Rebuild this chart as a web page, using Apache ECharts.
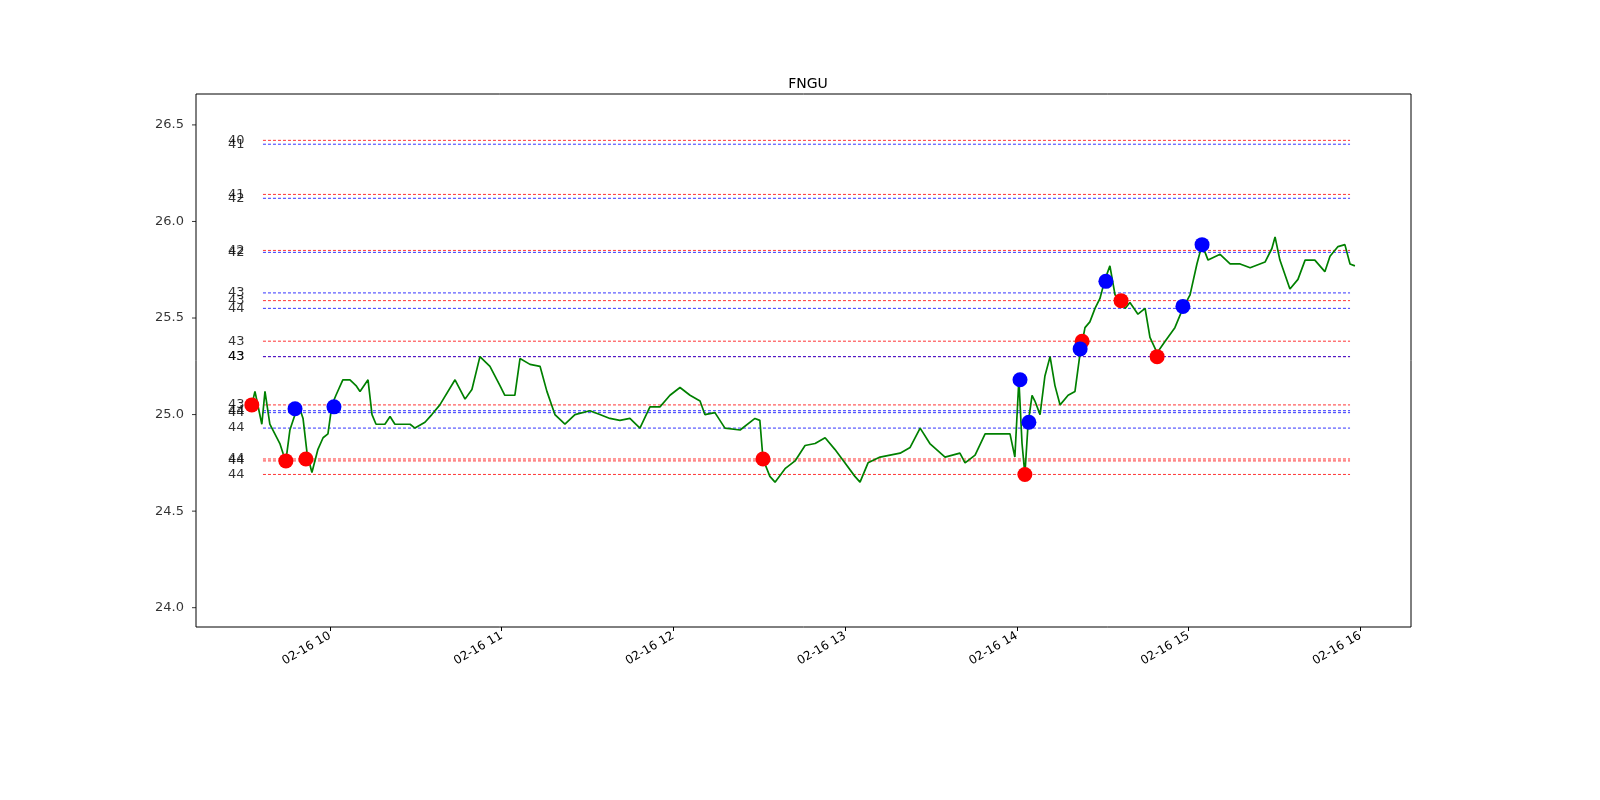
<!DOCTYPE html>
<html><head><meta charset="utf-8">
<script src="https://cdn.jsdelivr.net/npm/echarts@6/dist/echarts.min.js"></script>
<style>html,body{margin:0;padding:0;background:#fff;overflow:hidden;width:1600px;height:800px}#c{width:1600px;height:800px}</style>
</head><body><div id="c"></div>
<script>
// times: minutes after 09:30 on 02-16
const priceTimes = [2.7,3.8,6.2,7.3,9.0,12.5,13.6,14.6,16.0,17.8,19.5,20.6,22.0,23.7,25.8,27.6,29.3,30.7,32.1,34.5,37.0,39.1,40.5,43.3,44.7,46.1,49.2,51.0,52.7,55.2,58.0,59.7,63.2,65.6,68.4,73.7,77.2,79.6,82.4,85.9,89.4,91.1,94.6,96.4,99.9,103.4,105.8,108.6,112.1,115.6,120.8,124.3,127.8,131.3,134.8,138.3,141.8,145.3,148.8,152.3,155.8,159.3,161.0,164.5,168.0,173.3,178.5,180.2,181.3,183.7,185.5,189.0,192.5,196.0,199.5,203.0,206.4,209.9,213.4,215.2,218.0,222.2,225.7,229.2,232.7,236.2,239.6,244.9,250.1,251.9,255.4,258.9,264.1,267.6,269.3,270.7,271.8,272.8,273.9,275.3,276.3,278.1,279.8,281.6,283.3,285.1,287.9,290.3,292.1,293.8,295.5,297.3,299.0,300.8,302.5,304.3,306.0,307.8,309.5,312.3,314.8,316.5,319.0,321.8,325.2,328.0,330.5,332.9,334.7,336.8,341.0,344.5,348.0,351.5,356.7,359.1,360.2,361.9,365.4,368.2,370.7,374.1,377.6,379.4,382.2,384.6,386.4,388.1];
const prices = [25.05,25.12,24.95,25.12,24.95,24.85,24.80,24.76,24.92,25.00,25.03,24.98,24.80,24.70,24.82,24.88,24.90,25.05,25.10,25.18,25.18,25.15,25.12,25.18,25.00,24.95,24.95,24.99,24.95,24.95,24.95,24.93,24.96,25.00,25.05,25.18,25.08,25.13,25.30,25.25,25.15,25.10,25.10,25.29,25.26,25.25,25.12,25.00,24.95,25.00,25.02,25.00,24.98,24.97,24.98,24.93,25.04,25.04,25.10,25.14,25.10,25.07,25.00,25.01,24.93,24.92,24.98,24.97,24.77,24.68,24.65,24.72,24.76,24.84,24.85,24.88,24.82,24.75,24.68,24.65,24.75,24.78,24.79,24.80,24.83,24.93,24.85,24.78,24.80,24.75,24.79,24.90,24.90,24.90,24.78,25.18,24.85,24.69,24.95,25.10,25.07,25.00,25.20,25.30,25.15,25.05,25.10,25.12,25.32,25.45,25.48,25.55,25.60,25.70,25.77,25.62,25.60,25.55,25.58,25.52,25.55,25.40,25.32,25.38,25.45,25.55,25.62,25.78,25.88,25.80,25.83,25.78,25.78,25.76,25.79,25.86,25.92,25.80,25.65,25.70,25.80,25.80,25.74,25.82,25.87,25.88,25.78,25.77];
const redTimes = [2.7,14.6,21.6,181.3,272.8,292.8,306.4,319.0];
const redVals = [25.05,24.76,24.77,24.77,24.69,25.38,25.59,25.30];
const blueTimes = [17.8,31.4,271.1,274.2,292.1,301.1,328.0,334.7];
const blueVals = [25.03,25.04,25.18,24.96,25.34,25.69,25.56,25.88];
const levelVals = [26.42,26.40,26.14,26.12,25.85,25.84,25.63,25.59,25.55,25.38,25.30,25.30,25.05,25.02,25.01,24.93,24.77,24.76,24.69];
const levelColors = ['red','blue','red','blue','red','blue','blue','red','blue','red','red','blue','red','blue','blue','blue','red','red','red'];
const levelLabels = ['40','41','41','42','42','42','43','43','44','43','43','43','43','44','44','44','44','44','44'];
const levelStart = 6.6, levelEnd = 386.4;
const xMin = -16.8, xMax = 407.7, yMin = 23.9, yMax = 26.66;
const xTickVals = [30,90,150,210,270,330,390];
const xTickLabels = ['02-16 10','02-16 11','02-16 12','02-16 13','02-16 14','02-16 15','02-16 16'];
const yTickVals = [24.0,24.5,25.0,25.5,26.0,26.5];

const series = [];
levelVals.forEach((v,i)=>{
  series.push({type:'line',silent:true,symbol:'none',z:1,
    data:[[levelStart,v],[levelEnd,v]],
    lineStyle:{color:levelColors[i],width:0.8,type:[3,2]}});
});
series.push({type:'scatter',silent:true,symbolSize:1,itemStyle:{color:'rgba(0,0,0,0)'},z:5,
  data:levelVals.map((v,i)=>({value:[levelStart,v],name:levelLabels[i]})),
  label:{show:true,position:'left',distance:18,formatter:p=>p.name,color:'#000',fontSize:13,fontFamily:'DejaVu Sans'}});
// y-axis tick marks and labels
series.push({type:'scatter',silent:true,clip:false,symbol:'rect',symbolSize:[4,1],symbolOffset:[-2,0],
  itemStyle:{color:'#000'},data:yTickVals.map(v=>[xMin,v]),
  label:{show:true,position:'left',distance:8,formatter:p=>p.value[1].toFixed(1),color:'#000',fontSize:13,fontFamily:'DejaVu Sans'}});
series.push({type:'line',symbol:'none',z:3,data:priceTimes.map((t,i)=>[t,prices[i]]),lineStyle:{color:'#008000',width:1.7}});
series.push({type:'scatter',z:4,symbolSize:15,itemStyle:{color:'red',opacity:1},data:redTimes.map((t,i)=>[t,redVals[i]])});
series.push({type:'scatter',z:4,symbolSize:15,itemStyle:{color:'blue',opacity:1},data:blueTimes.map((t,i)=>[t,blueVals[i]])});

const chart = echarts.init(document.getElementById('c'));
chart.setOption({
  animation:false,
  title:{text:'FNGU',left:803,top:72,textAlign:'center',textStyle:{fontSize:14,fontWeight:'normal',color:'#000',fontFamily:'DejaVu Sans'}},
  grid:{left:196,right:189,top:94,bottom:173,containLabel:false,outerBoundsMode:'none',show:true,borderColor:'#000',borderWidth:1,backgroundColor:'transparent'},
  xAxis:{type:'value',min:xMin,max:xMax,splitLine:{show:false},axisLine:{show:false},
    axisTick:{show:true,length:4,lineStyle:{color:'#000'},customValues:xTickVals},
    axisLabel:{customValues:xTickVals,rotate:30,color:'#000',fontSize:12,fontFamily:'DejaVu Sans',margin:8,
      formatter:v=>xTickLabels[xTickVals.indexOf(Math.round(v))]||''}},
  yAxis:{type:'value',min:yMin,max:yMax,splitLine:{show:false},axisLine:{show:false},axisTick:{show:false},axisLabel:{show:false}},
  series
});
</script></body></html>
